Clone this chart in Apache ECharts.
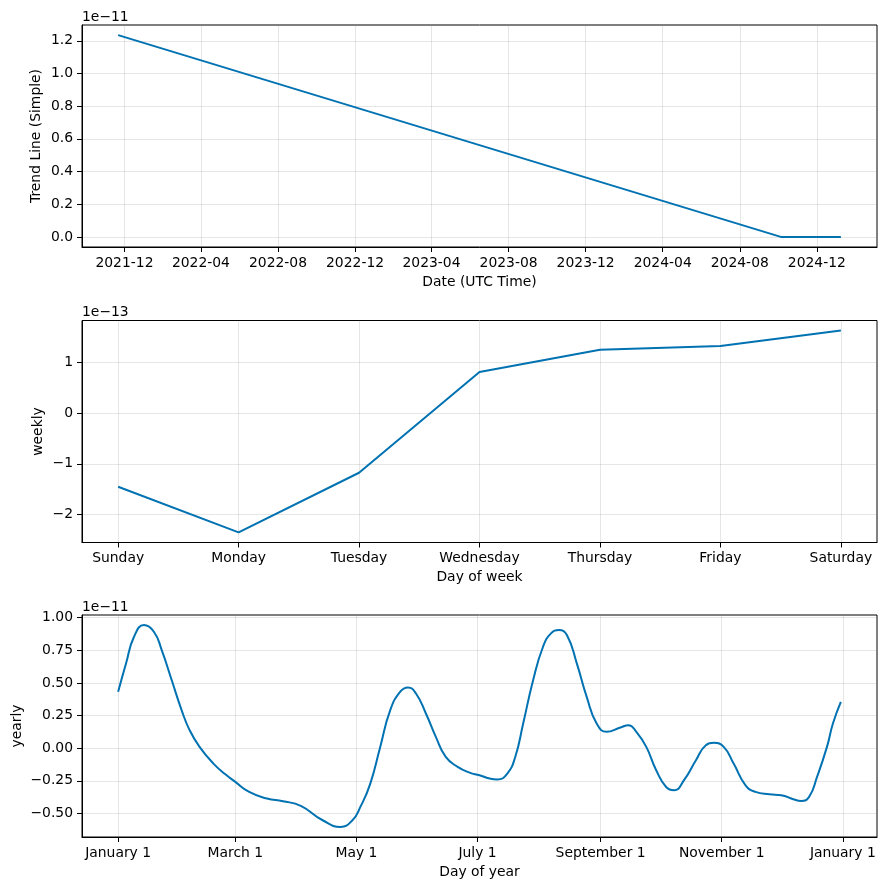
<!DOCTYPE html>
<html><head><meta charset="utf-8">
<script src="https://cdn.jsdelivr.net/npm/echarts@6/dist/echarts.min.js"></script>
<style>html,body{margin:0;padding:0;background:#fff}#c{width:886px;height:890px}</style>
</head><body><div id="c"></div>
<script>
// ---- Panel 1: trend (values in units of 1e-11) ----
const trendDates = ['2021-11-21', '2024-10-05', '2025-01-08'];
const trendValues = [1.235, 0, 0];
const trendTickDates = ['2021-12-01','2022-04-01','2022-08-01','2022-12-01','2023-04-01','2023-08-01','2023-12-01','2024-04-01','2024-08-01','2024-12-01'];
const trendYTicks = [0, 0.2, 0.4, 0.6, 0.8, 1.0, 1.2];
const trendScaleLabel = '1e\u221211';

// ---- Panel 2: weekly (values in units of 1e-13) ----
const weekDays = ['Sunday','Monday','Tuesday','Wednesday','Thursday','Friday','Saturday'];
const weeklyValues = [-1.453, -2.356, -1.176, 0.818, 1.259, 1.333, 1.636];
const weeklyYTicks = [-2, -1, 0, 1];
const weeklyScaleLabel = '1e\u221213';

// ---- Panel 3: yearly (values in units of 1e-11) ----
const yearDays = [0,4,8,13,18,22,27,32,36,41,48,54,59,66,75,83,92,103,112,118,122,127,132,137,142,146,150,155,160,165,171,177,182,187,191,196,200,204,209,214,218,222,226,231,236,241,246,253,257,261,266,271,276,280,285,291,296,300,305,310,316,321,328,334,340,344,348,352,357,360,364];
const yearlyValues = [0.432,0.65,0.854,0.943,0.892,0.75,0.52,0.29,0.138,0.01,-0.118,-0.2,-0.258,-0.335,-0.386,-0.406,-0.442,-0.552,-0.603,-0.552,-0.45,-0.271,0.01,0.29,0.432,0.465,0.419,0.266,0.087,-0.067,-0.143,-0.187,-0.207,-0.232,-0.24,-0.194,-0.067,0.189,0.521,0.777,0.88,0.905,0.867,0.65,0.393,0.189,0.125,0.159,0.176,0.125,0.01,-0.169,-0.297,-0.322,-0.245,-0.092,0.023,0.041,0.01,-0.118,-0.284,-0.335,-0.353,-0.36,-0.391,-0.404,-0.373,-0.22,0.01,0.189,0.355];
const yearTickDays = [0, 59, 120, 181, 243, 304, 365];
const yearTickLabels = ['January 1','March 1','May 1','July 1','September 1','November 1','January 1'];
const yearlyYTicks = [-0.5, -0.25, 0, 0.25, 0.5, 0.75, 1.0];
const yearlyScaleLabel = '1e\u221211';

// ---- helpers ----
const FONT = 'DejaVu Sans';
const FS = 13.9;
const LINE = '#0072B2';
const minus = s => String(s).replace('-', '\u2212');
function pad(arr) {
  const lo = Math.min(...arr), hi = Math.max(...arr), r = hi - lo;
  return [lo - 0.05 * r, hi + 0.05 * r];
}
const toTs = d => Date.parse(d + 'T00:00:00Z');
const tDates = trendDates.map(toTs);
const tTicks = trendTickDates.map(toTs);
const tExt = pad(tDates);
const tyExt = pad(trendValues);
const wExt = pad(weekDays.map((d, i) => i));
const wyExt = pad(weeklyValues);
const yExt = pad(yearDays);
const yyExt = pad(yearlyValues);

const gridBase = {left: 82, width: 795, height: 222, show: true, borderColor: '#000', borderWidth: 1,
  backgroundColor: 'transparent', containLabel: false, outerBoundsMode: 'none'};
const tick = cv => ({show: true, length: 5, lineStyle: {color: '#000', width: 1}, customValues: cv});
function axisCommon(extra) {
  return Object.assign({
    type: 'value',
    scale: true,
    axisLine: {show: true, onZero: false, lineStyle: {color: '#000', width: 1}},
    splitLine: {show: true, lineStyle: {color: 'rgba(128,128,128,0.2)', width: 1}},
    nameTextStyle: {fontFamily: FONT, fontSize: FS, color: '#000'},
    nameLocation: 'middle'
  }, extra);
}
function lbl(cv, fmt) {
  return {fontFamily: FONT, fontSize: FS, color: '#000', margin: 9, customValues: cv, formatter: fmt};
}

const option = {
  animation: false,
  backgroundColor: '#fff',
  grid: [
    Object.assign({top: 25}, gridBase),
    Object.assign({top: 320.5}, gridBase),
    Object.assign({top: 615}, gridBase)
  ],
  xAxis: [
    axisCommon({gridIndex: 0, min: tExt[0], max: tExt[1], name: 'Date (UTC Time)', nameGap: 28,
      axisTick: tick(tTicks),
      axisLabel: lbl(tTicks, v => {
        const d = new Date(v); return d.getUTCFullYear() + '-' + String(d.getUTCMonth() + 1).padStart(2, '0');
      })}),
    axisCommon({gridIndex: 1, min: wExt[0], max: wExt[1], name: 'Day of week', nameGap: 28,
      axisTick: tick(weekDays.map((d, i) => i)),
      axisLabel: lbl(weekDays.map((d, i) => i), v => weekDays[Math.round(v)])}),
    axisCommon({gridIndex: 2, min: yExt[0], max: yExt[1], name: 'Day of year', nameGap: 28,
      axisTick: tick(yearTickDays),
      axisLabel: lbl(yearTickDays, v => yearTickLabels[yearTickDays.indexOf(Math.round(v))])})
  ],
  yAxis: [
    axisCommon({gridIndex: 0, min: tyExt[0], max: tyExt[1], name: 'Trend Line (Simple)', nameGap: 39, nameMoveOverlap: false,
      axisTick: tick(trendYTicks),
      axisLabel: lbl(trendYTicks, v => minus(v.toFixed(1)))}),
    axisCommon({gridIndex: 1, min: wyExt[0], max: wyExt[1], name: 'weekly', nameGap: 37, nameMoveOverlap: false,
      axisTick: tick(weeklyYTicks),
      axisLabel: lbl(weeklyYTicks, v => minus(v.toFixed(0)))}),
    axisCommon({gridIndex: 2, min: yyExt[0], max: yyExt[1], name: 'yearly', nameGap: 57.5, nameMoveOverlap: false,
      axisTick: tick(yearlyYTicks),
      axisLabel: lbl(yearlyYTicks, v => minus(v.toFixed(2)))})
  ],
  series: [
    {type: 'line', xAxisIndex: 0, yAxisIndex: 0, showSymbol: false, lineStyle: {color: LINE, width: 2},
      data: tDates.map((t, i) => [t, trendValues[i]])},
    {type: 'line', xAxisIndex: 1, yAxisIndex: 1, showSymbol: false, lineStyle: {color: LINE, width: 2},
      data: weeklyValues.map((v, i) => [i, v])},
    {type: 'line', xAxisIndex: 2, yAxisIndex: 2, showSymbol: false, smooth: 0.5, lineStyle: {color: LINE, width: 2},
      data: yearDays.map((d, i) => [d, yearlyValues[i]])}
  ],
  graphic: [
    {type: 'text', x: 82, y: 17.5, style: {text: trendScaleLabel, font: FS + 'px "' + FONT + '"', fill: '#000', verticalAlign: 'middle'}},
    {type: 'text', x: 82, y: 312.5, style: {text: weeklyScaleLabel, font: FS + 'px "' + FONT + '"', fill: '#000', verticalAlign: 'middle'}},
    {type: 'text', x: 82, y: 607, style: {text: yearlyScaleLabel, font: FS + 'px "' + FONT + '"', fill: '#000', verticalAlign: 'middle'}}
  ]
};
const chart = echarts.init(document.getElementById('c'), null, {renderer: 'canvas'});
chart.setOption(option);
</script>
</body></html>
